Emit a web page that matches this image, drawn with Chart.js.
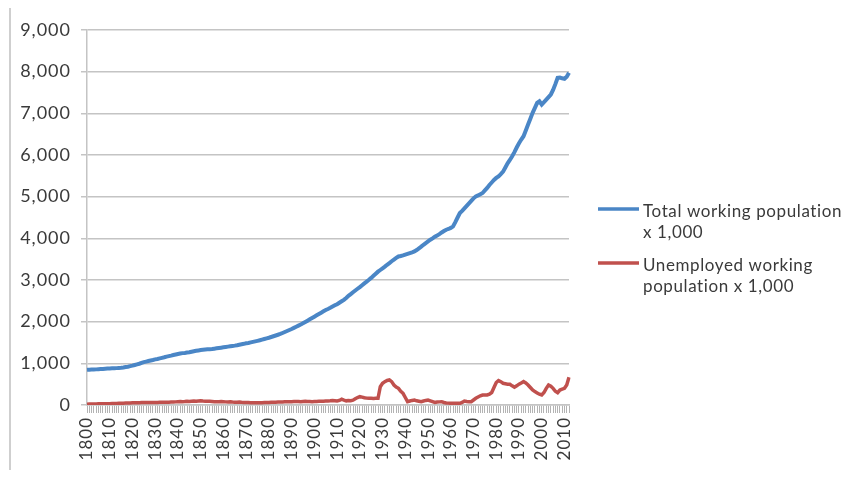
<!DOCTYPE html>
<html>
<head>
<meta charset="utf-8">
<script src="https://cdn.jsdelivr.net/npm/chart.js@4/dist/chart.umd.min.js"></script>
<style>
  html, body { margin: 0; padding: 0; background: #ffffff; }
  #wrap { position: relative; width: 862px; height: 481px; }
</style>
</head>
<body>
<div id="wrap"><canvas id="chart" width="862" height="481"></canvas></div>
<script>
// Years 1800 .. 2012
const years = [];
for (let y = 1800; y <= 2012; y++) years.push(String(y));

// Total working population x 1,000
const totalWorking = [
  845, 848, 850, 853, 855, 858, 862, 866, 870, 874,
  878, 880, 882, 885, 888, 892, 900, 910, 920, 932,
  945, 960, 975, 990, 1010, 1030, 1042, 1055, 1068, 1080,
  1095, 1105, 1118, 1132, 1145, 1160, 1172, 1185, 1200, 1212,
  1225, 1235, 1245, 1250, 1258, 1265, 1278, 1290, 1300, 1310,
  1320, 1326, 1332, 1336, 1340, 1345, 1352, 1360, 1368, 1376,
  1385, 1393, 1401, 1410, 1418, 1425, 1435, 1447, 1458, 1468,
  1480, 1490, 1502, 1515, 1527, 1540, 1554, 1570, 1585, 1600,
  1615, 1632, 1650, 1668, 1686, 1705, 1728, 1752, 1776, 1800,
  1825, 1852, 1878, 1905, 1932, 1960, 1992, 2024, 2056, 2088,
  2120, 2152, 2184, 2216, 2248, 2280, 2305, 2332, 2362, 2392,
  2420, 2455, 2490, 2524, 2570, 2620, 2660, 2705, 2748, 2790,
  2830, 2875, 2920, 2962, 3005, 3050, 3100, 3150, 3200, 3240,
  3280, 3320, 3365, 3406, 3450, 3490, 3530, 3565, 3575, 3590,
  3610, 3628, 3646, 3665, 3686, 3720, 3760, 3800, 3845, 3885,
  3925, 3966, 4000, 4040, 4070, 4100, 4140, 4175, 4207, 4225,
  4250, 4286, 4390, 4500, 4608, 4660, 4720, 4780, 4840, 4900,
  4960, 5007, 5030, 5060, 5088, 5150, 5210, 5280, 5340, 5400,
  5450, 5488, 5540, 5600, 5700, 5800, 5880, 5969, 6070, 6180,
  6280, 6370, 6450, 6590, 6730, 6870, 7011, 7130, 7250, 7290,
  7212, 7270, 7330, 7390, 7452, 7560, 7700, 7853, 7860, 7840,
  7829, 7880, 7973
];

// Unemployed working population x 1,000
const unemployed = [
  20, 22, 24, 25, 26, 28, 28, 30, 30, 32,
  32, 34, 36, 38, 40, 42, 44, 46, 48, 50,
  52, 54, 55, 56, 58, 58, 60, 60, 60, 62,
  62, 62, 64, 64, 65, 66, 68, 70, 72, 75,
  80, 85, 78, 82, 90, 85, 92, 95, 90, 98,
  100, 95, 92, 88, 90, 85, 80, 78, 80, 82,
  78, 75, 72, 75, 70, 68, 66, 70, 65, 62,
  60, 58, 56, 55, 54, 54, 55, 56, 58, 60,
  62, 64, 66, 68, 70, 72, 74, 76, 78, 80,
  80, 82, 85, 82, 80, 85, 88, 85, 82, 80,
  82, 85, 88, 90, 92, 95, 98, 100, 105, 100,
  96, 110, 140, 115, 100, 110, 104, 115, 150, 180,
  200, 190, 175, 165, 160, 162, 158, 160, 160, 440,
  520, 561, 590, 601, 561, 480, 430, 400, 330, 280,
  180, 80, 95, 110, 120, 100, 90, 80, 95, 110,
  120, 100, 80, 60, 70, 75, 80, 60, 50, 45,
  40, 42, 40, 40, 40, 60, 96, 85, 80, 80,
  120, 160, 190, 220, 240, 240, 240, 260, 300, 420,
  540, 585, 560, 521, 510, 500, 497, 460, 425, 460,
  500, 530, 561, 530, 481, 420, 360, 321, 290, 260,
  240, 300, 400, 481, 450, 400, 330, 297, 360, 380,
  400, 481, 665
];

// Value axis ticks
const yTicks = [0, 1000, 2000, 3000, 4000, 5000, 6000, 7000, 8000, 9000];

// Series names, wrapped the way the legend shows them
const seriesNames = [
  ['Total working population', 'x 1,000'],
  ['Unemployed working', 'population x 1,000']
];

const BLUE = '#4a86c6';
const RED = '#c0504d';
const GRID = '#c4c4c4';
const TEXT = '#3a3a3a';
const FONT = 'Lato, "Open Sans", sans-serif';

// Slightly wider tracking for all axis text
const tracking = {
  id: 'tracking',
  beforeLayout(chart) { chart.ctx.letterSpacing = '1px'; },
  beforeDraw(chart) { chart.ctx.letterSpacing = '1px'; }
};

// Thin frame line at the left edge of the figure
const frameLine = {
  id: 'frameLine',
  beforeDraw(chart) {
    const ctx = chart.ctx;
    ctx.save();
    ctx.strokeStyle = '#cfcfcf';
    ctx.lineWidth = 2;
    ctx.beginPath();
    ctx.moveTo(10, 8);
    ctx.lineTo(10, 470);
    ctx.stroke();
    ctx.restore();
  }
};

// Legend on the right, two-line entries
const sideLegend = {
  id: 'sideLegend',
  afterDraw(chart) {
    const ctx = chart.ctx;
    const x0 = 598, sample = 41, gap = 4, lineH = 21;
    const tops = [212, 266];
    ctx.save();
    ctx.font = '17px ' + FONT;
    ctx.letterSpacing = '0.6px';
    ctx.textBaseline = 'middle';
    ctx.textAlign = 'left';
    chart.data.datasets.forEach((ds, i) => {
      const y = tops[i];
      ctx.strokeStyle = ds.borderColor;
      ctx.lineWidth = 3.5;
      ctx.beginPath();
      ctx.moveTo(x0, y - 3);
      ctx.lineTo(x0 + sample, y - 3);
      ctx.stroke();
      ctx.fillStyle = TEXT;
      seriesNames[i].forEach((line, j) => {
        ctx.fillText(line, x0 + sample + gap, y + j * lineH);
      });
    });
    ctx.restore();
  }
};

new Chart(document.getElementById('chart'), {
  type: 'line',
  data: {
    labels: years,
    datasets: [
      {
        label: seriesNames[0].join(' '),
        data: totalWorking,
        borderColor: BLUE,
        backgroundColor: BLUE,
        borderWidth: 4,
        pointRadius: 0,
        tension: 0
      },
      {
        label: seriesNames[1].join(' '),
        data: unemployed,
        borderColor: RED,
        backgroundColor: RED,
        borderWidth: 3.5,
        pointRadius: 0,
        tension: 0
      }
    ]
  },
  options: {
    responsive: false,
    animation: false,
    layout: { padding: { top: 30, right: 293, bottom: 0, left: 0 } },
    plugins: {
      legend: { display: false },
      tooltip: { enabled: false }
    },
    scales: {
      x: {
        type: 'category',
        offset: false,
        afterFit(scale) { scale.height = 76; },
        grid: {
          drawOnChartArea: false,
          drawTicks: true,
          tickLength: 8,
          color: '#b3b3b3',
          lineWidth: 1
        },
        border: { display: true, color: GRID, width: 1.5 },
        ticks: {
          autoSkip: false,
          maxRotation: 90,
          minRotation: 90,
          padding: 4,
          color: TEXT,
          font: { family: FONT, size: 17 },
          callback(value, index) {
            const y = Number(years[index]);
            return y % 10 === 0 ? String(y) : '';
          }
        }
      },
      y: {
        min: yTicks[0],
        max: yTicks[yTicks.length - 1],
        afterFit(scale) { scale.width = 87; },
        afterBuildTicks(scale) { scale.ticks = yTicks.map(v => ({ value: v })); },
        grid: {
          color: GRID,
          lineWidth: 1.5,
          drawTicks: true,
          tickLength: 6
        },
        border: { display: true, color: GRID, width: 1.5 },
        ticks: {
          padding: 10,
          color: TEXT,
          font: { family: FONT, size: 18 },
          callback(value) { return value.toLocaleString('en-US'); }
        }
      }
    }
  },
  plugins: [tracking, frameLine, sideLegend]
});
</script>
</body>
</html>
